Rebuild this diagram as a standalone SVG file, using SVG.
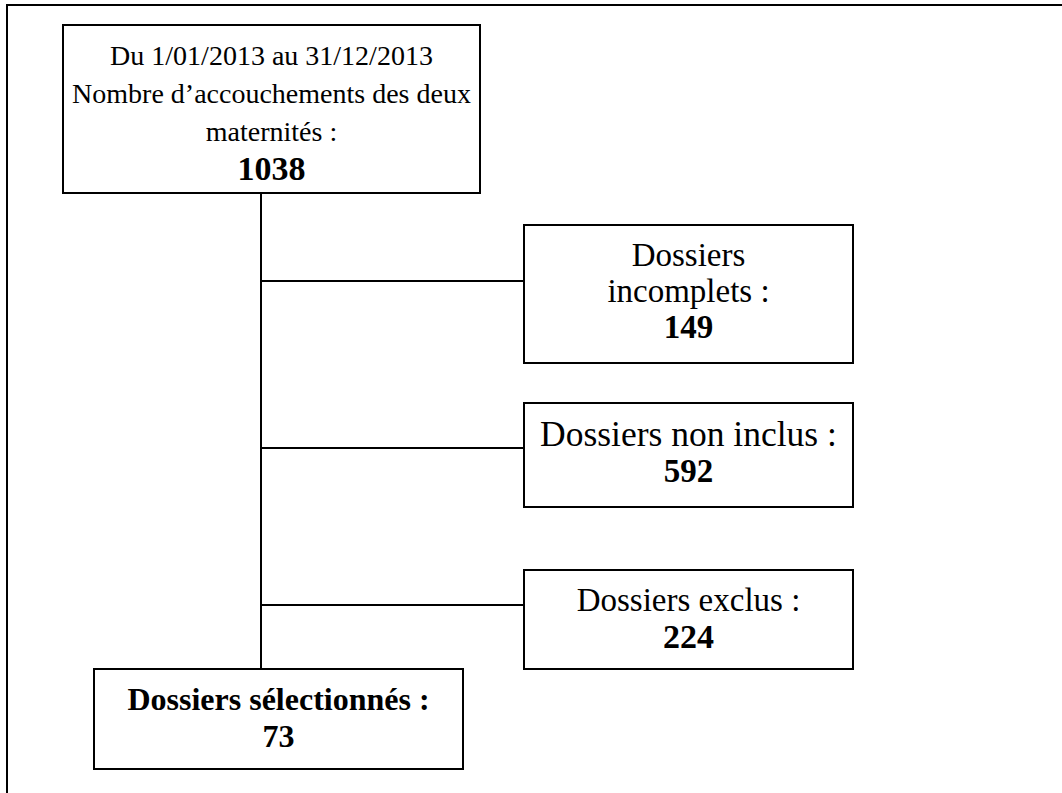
<svg xmlns="http://www.w3.org/2000/svg" width="1062" height="793" viewBox="0 0 1062 793">
<style>
.box{fill:#fff;stroke:#000;stroke-width:2}
.frame{fill:none;stroke:#000;stroke-width:2}
.conn{fill:none;stroke:#000;stroke-width:2}
text{font-family:"Liberation Serif","Times New Roman",serif;fill:#000;text-anchor:middle}
.t28{font-size:28px}
.t33{font-size:33px}
.b{font-weight:bold}
</style>
<rect width="1062" height="793" fill="#fff"/>
<path class="frame" d="M7,793 V5 H1062"/>
<g id="connectors">
<path class="conn" d="M261,193 V669"/>
<path class="conn" d="M261,281 H524"/>
<path class="conn" d="M261,448 H524"/>
<path class="conn" d="M261,605 H524"/>
</g>
<g id="node-total">
<rect class="box" x="63" y="25" width="417" height="168"/>
<text class="t28" x="271.5" y="65">Du 1/01/2013 au 31/12/2013</text>
<text class="t28" x="271.5" y="103">Nombre d’accouchements des deux</text>
<text class="t28" x="271.5" y="141">maternités :</text>
<text class="b" style="font-size:34px" x="271.5" y="180">1038</text>
</g>
<g id="node-incomplets">
<rect class="box" x="524" y="225" width="329" height="138"/>
<text class="t33" x="688.5" y="266">Dossiers</text>
<text class="t33" x="688.5" y="302">incomplets :</text>
<text class="t33 b" x="688.5" y="338">149</text>
</g>
<g id="node-noninclus">
<rect class="box" x="524" y="403" width="329" height="104"/>
<text style="font-size:35.5px" x="688.5" y="446">Dossiers non inclus :</text>
<text class="t33 b" x="688.5" y="482">592</text>
</g>
<g id="node-exclus">
<rect class="box" x="524" y="570" width="329" height="99"/>
<text class="t33" x="688.5" y="611">Dossiers exclus :</text>
<text class="b" style="font-size:34px" x="688.5" y="648">224</text>
</g>
<g id="node-selectionnes">
<rect class="box" x="94" y="669" width="369" height="100"/>
<text class="b" style="font-size:32px" x="278.5" y="710">Dossiers sélectionnés :</text>
<text class="b" style="font-size:32px" x="278.5" y="747">73</text>
</g>
</svg>
